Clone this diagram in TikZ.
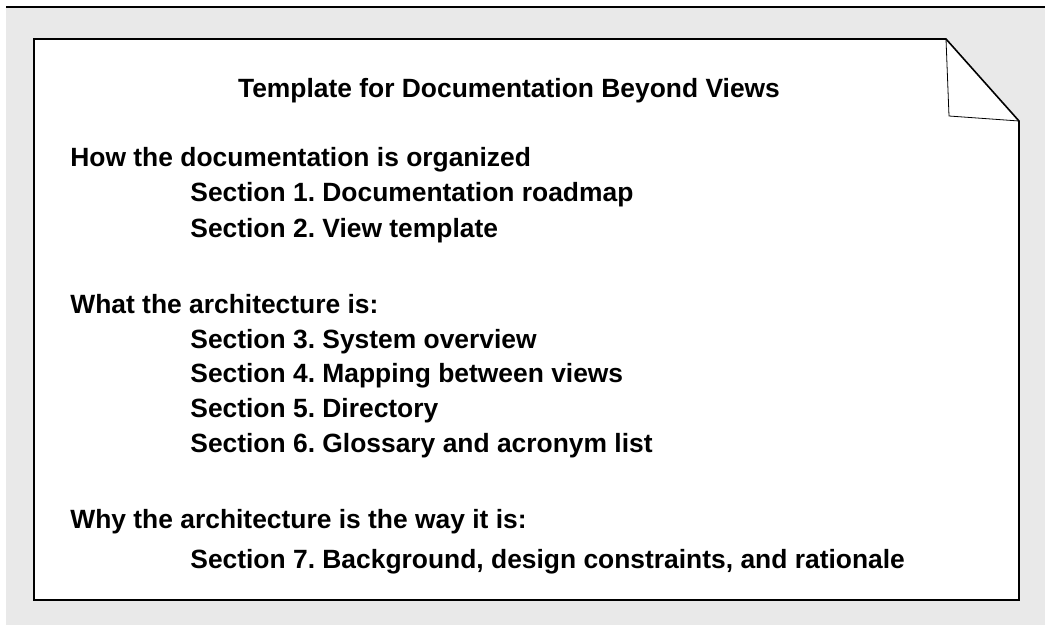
\documentclass[tikz,border=0pt]{standalone}
\usepackage{fontspec}
\setmainfont{Liberation Sans}
\definecolor{pagegray}{HTML}{E9E9E9}
\tikzset{
    heading/.style={anchor=base, inner sep=0pt, font=\bfseries},
    topic/.style={anchor=base west, inner sep=0pt, font=\bfseries},
    entry/.style={anchor=base west, inner sep=0pt, font=\bfseries},
}
\frenchspacing
\begin{document}
\fontsize{13.2}{17.5}\selectfont
\begin{tikzpicture}[x=0.5pt, y=-0.5pt]
    \useasboundingbox (0, 0) rectangle (1045, 626);
    \fill[pagegray] (6, 7) rectangle (1045, 625);
    \draw[line width=0.6pt] (6, 7) -- (1045, 7);

    % the sheet with its folded corner
    \coordinate (TL) at (34, 39);
    \coordinate (F1) at (946, 39);
    \coordinate (F2) at (1019, 121);
    \coordinate (FC) at (949, 116);
    \coordinate (BR) at (1019, 600);
    \coordinate (BL) at (34, 600);
    \draw[line width=0.8pt, fill=white] (TL) -- (F1) -- (F2) -- (BR) -- (BL) -- cycle;
    \draw[line width=0.4pt] (F1) -- (FC) -- (F2);

    \node[heading](title) at (509, 98) {Template for Documentation Beyond Views};

    \node[topic](how) at (70, 167) {How the documentation is organized};
    \node[entry](s1) at (190, 202) {Section 1. Documentation roadmap};
    \node[entry](s2) at (190, 237) {Section 2. View template};

    \node[topic](what) at (70, 313) {What the architecture is:};
    \node[entry](s3) at (190, 348) {Section 3. System overview};
    \node[entry](s4) at (190, 382) {Section 4. Mapping between views};
    \node[entry](s5) at (190, 417) {Section 5. Directory};
    \node[entry](s6) at (190, 452) {Section 6. Glossary and acronym list};

    \node[topic](why) at (70, 528) {Why the architecture is the way it is:};
    \node[entry](s7) at (190, 568) {Section 7. Background, design constraints, and rationale};

\end{tikzpicture}
\end{document}
